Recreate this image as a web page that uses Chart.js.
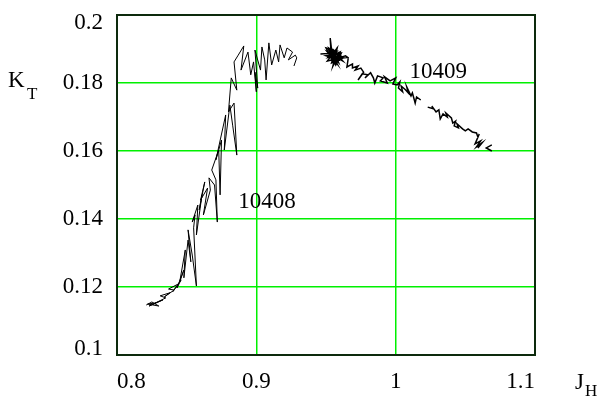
<!DOCTYPE html>
<html>
<head>
<meta charset="utf-8">
<script src="https://cdn.jsdelivr.net/npm/chart.js@4/dist/chart.umd.min.js"></script>
<style>
  html, body { margin: 0; padding: 0; background: #fff; }
</style>
</head>
<body>
<canvas id="ktChart" width="602" height="396"></canvas>
<script>
// data (J_H, K_T)
const run10408J = [0.821, 0.825, 0.830, 0.822, 0.828, 0.823, 0.833, 0.826, 0.835, 0.831, 0.838, 0.834, 0.841, 0.837, 0.844, 0.840,
  0.846, 0.843, 0.848, 0.845, 0.849, 0.848, 0.851, 0.853, 0.851, 0.854, 0.857, 0.855, 0.856, 0.854, 0.858, 0.857,
  0.861, 0.859, 0.863, 0.860, 0.865, 0.862, 0.867, 0.866, 0.870, 0.872, 0.871, 0.868, 0.873, 0.874, 0.875, 0.871,
  0.878, 0.877, 0.881, 0.883, 0.886, 0.884, 0.880, 0.882, 0.886, 0.884, 0.887, 0.891, 0.889, 0.894, 0.896, 0.898,
  0.900, 0.899, 0.901, 0.899, 0.903, 0.904, 0.906, 0.907, 0.909, 0.911, 0.914, 0.916, 0.917, 0.920, 0.922, 0.926,
  0.923, 0.928, 0.929, 0.927];
const run10408K = [0.1147, 0.1156, 0.1144, 0.1150, 0.1153, 0.1144, 0.1162, 0.1150, 0.1168, 0.1174, 0.1183, 0.1171, 0.1191, 0.1194, 0.1209, 0.1186,
  0.1221, 0.1197, 0.1250, 0.1215, 0.1309, 0.1227, 0.1338, 0.1274, 0.1368, 0.1294, 0.1203, 0.1374, 0.1412, 0.1391, 0.1441, 0.1353,
  0.1471, 0.1427, 0.1509, 0.1456, 0.1491, 0.1412, 0.1485, 0.1521, 0.1500, 0.1391, 0.1515, 0.1544, 0.1603, 0.1471, 0.1632, 0.1574,
  0.1706, 0.1603, 0.1735, 0.1676, 0.1588, 0.1741, 0.1715, 0.1815, 0.1779, 0.1862, 0.1882, 0.1909, 0.1838, 0.1891, 0.1824, 0.1862,
  0.1774, 0.1832, 0.1785, 0.1897, 0.1838, 0.1906, 0.1868, 0.1809, 0.1918, 0.1853, 0.1897, 0.1862, 0.1912, 0.1874, 0.1903, 0.1891,
  0.1868, 0.1882, 0.1874, 0.1850];

// null = break in the trace
const run10409J = [0.946, 0.956, 0.951, 0.958, 0.950, 0.955, 0.953, 0.954, 0.960, 0.952, 0.957, 0.961, 0.950, 0.959, 0.953, 0.962,
  0.951, 0.958, 0.955, 0.960, 0.952, 0.957, 0.954, 0.961, 0.953, 0.959, 0.956, 0.962, 0.951, 0.958, 0.955, 0.963,
  0.957, 0.964, 0.966, 0.965, 0.969, 0.969, 0.973, 0.971, 0.975, 0.977, 0.973, 0.976, 0.980, 0.978, 0.982, 0.984,
  0.985, 0.987, 0.991, 0.989, 0.994, 0.992, 0.996, 1.000, 0.998, 1.001, 1.003, 1.002, 1.005, 1.004, 1.007, 1.009,
  1.008, 1.011, 1.012, 1.014, 1.015, 1.018, null, 1.023, 1.027, 1.026, 1.029, 1.031, 1.032, 1.034, 1.037, 1.036,
  1.040, 1.041, 1.043, 1.042, 1.045, 1.044, 1.048, 1.050, 1.052, 1.055, 1.058, 1.059, 1.060, 1.057, 1.061, 1.058,
  1.062, 1.059, null, 1.069, 1.065, 1.069];
const run10409K = [0.1885, 0.1888, 0.1874, 0.1894, 0.1903, 0.1862, 0.1932, 0.1868, 0.1882, 0.1897, 0.1853, 0.1888, 0.1880, 0.1868, 0.1900, 0.1876,
  0.1865, 0.1903, 0.1850, 0.1891, 0.1877, 0.1897, 0.1859, 0.1871, 0.1885, 0.1860, 0.1894, 0.1865, 0.1891, 0.1856, 0.1880, 0.1874,
  0.1871, 0.1880, 0.1874, 0.1847, 0.1856, 0.1844, 0.1850, 0.1838, 0.1844, 0.1832, 0.1809, 0.1827, 0.1824, 0.1815, 0.1830, 0.1815,
  0.1800, 0.1821, 0.1815, 0.1806, 0.1800, 0.1818, 0.1806, 0.1815, 0.1797, 0.1794, 0.1803, 0.1785, 0.1774, 0.1791, 0.1780, 0.1771,
  0.1788, 0.1762, 0.1771, 0.1741, 0.1759, 0.1750, null, 0.1729, 0.1724, 0.1732, 0.1715, 0.1721, 0.1694, 0.1709, 0.1700, 0.1712,
  0.1697, 0.1682, 0.1688, 0.1674, 0.1668, 0.1680, 0.1665, 0.1659, 0.1665, 0.1656, 0.1653, 0.1641, 0.1650, 0.1621, 0.1630, 0.1612,
  0.1624, 0.1609, null, 0.1618, 0.1609, 0.1600];

const xTicks = [0.8, 0.9, 1, 1.1];
const yTicks = [0.1, 0.12, 0.14, 0.16, 0.18, 0.2];
const runLabels = ['10408', '10409'];
const runLabelJ = [0.887, 1.010];
const runLabelK = [0.1433, 0.1815];

const serif = '"Liberation Serif", "DejaVu Serif", serif';
const fontSize = 23;
const gridGreen = '#00f000';
const frameColor = '#0d2a0d';

function toPoints(xs, ys) {
  return xs.map((x, i) => (x === null ? { x: null, y: null } : { x: x, y: ys[i] }));
}

// frame, y tick labels, axis titles, run labels
const extras = {
  id: 'extras',
  afterDraw(chart) {
    const c = chart.ctx;
    const a = chart.chartArea;
    const xs = chart.scales.x;
    const ys = chart.scales.y;
    c.save();
    c.strokeStyle = frameColor;
    c.lineWidth = 2;
    c.strokeRect(a.left, a.top, a.right - a.left, a.bottom - a.top);

    c.fillStyle = '#000';
    c.font = fontSize + 'px ' + serif;
    c.textAlign = 'right';
    c.textBaseline = 'middle';
    yTicks.forEach((v, i) => {
      let py = ys.getPixelForValue(v);
      if (i === 0) py -= 6;
      if (i === yTicks.length - 1) py += 8;
      c.fillText(String(v), a.left - 14, py);
    });

    c.textAlign = 'left';
    c.textBaseline = 'alphabetic';
    runLabels.forEach((t, i) => {
      c.fillText(t, xs.getPixelForValue(runLabelJ[i]), ys.getPixelForValue(runLabelK[i]));
    });

    // K_T and J_H
    c.fillText('K', 8, 87);
    c.font = '17px ' + serif;
    c.fillText('T', 27, 99);
    c.font = fontSize + 'px ' + serif;
    c.fillText('J', 575, 389);
    c.font = '17px ' + serif;
    c.fillText('H', 585, 396);
    c.restore();
  }
};

function draw() {
  new Chart(document.getElementById('ktChart'), {
    type: 'scatter',
    data: {
      datasets: [
        {
          label: runLabels[0],
          data: toPoints(run10408J, run10408K),
          showLine: true,
          borderColor: '#000',
          borderWidth: 1,
          pointRadius: 0,
          tension: 0
        },
        {
          label: runLabels[1],
          data: toPoints(run10409J, run10409K),
          showLine: true,
          spanGaps: false,
          borderColor: '#000',
          borderWidth: 1.5,
          pointRadius: 0,
          tension: 0
        }
      ]
    },
    options: {
      responsive: false,
      animation: false,
      layout: {
        padding: { left: 0, top: 15, right: 67, bottom: 0 }
      },
      plugins: {
        legend: { display: false },
        tooltip: { enabled: false }
      },
      scales: {
        x: {
          type: 'linear',
          min: 0.8,
          max: 1.1,
          afterFit(scale) { scale.height = 41; },
          afterBuildTicks(scale) { scale.ticks = xTicks.map(v => ({ value: v })); },
          grid: { color: gridGreen, lineWidth: 1.5, drawTicks: false },
          border: { display: false },
          ticks: {
            align: 'inner',
            padding: 13,
            color: '#000',
            font: { family: serif, size: fontSize },
            callback: v => String(v)
          }
        },
        y: {
          type: 'linear',
          min: 0.1,
          max: 0.2,
          afterFit(scale) { scale.width = 117; },
          afterBuildTicks(scale) { scale.ticks = yTicks.map(v => ({ value: v })); },
          grid: { color: gridGreen, lineWidth: 1.5, drawTicks: false },
          border: { display: false },
          ticks: { display: false }
        }
      }
    },
    plugins: [extras]
  });
}

document.fonts.load(fontSize + 'px "Liberation Serif"').then(draw, draw);
</script>
</body>
</html>
